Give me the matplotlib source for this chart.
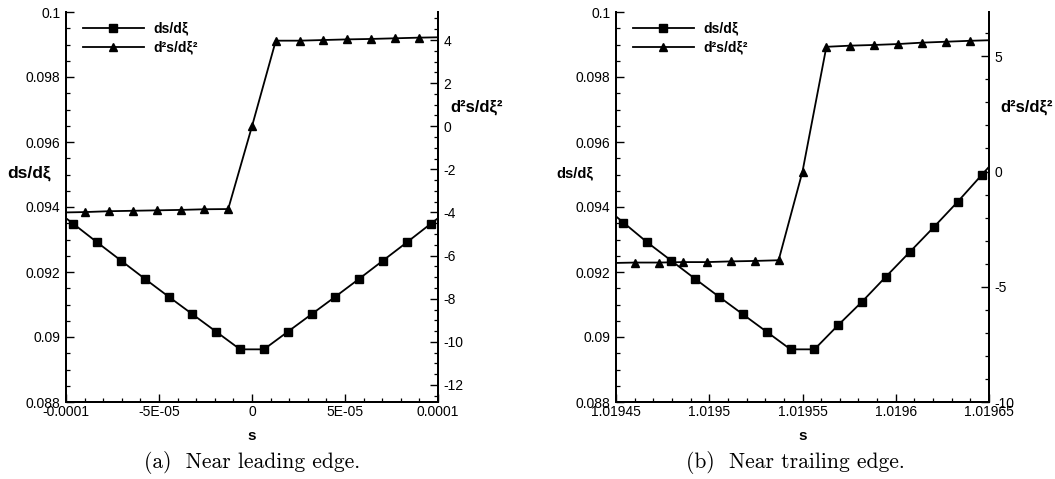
import matplotlib
matplotlib.use("Agg")
import matplotlib.pyplot as plt
from matplotlib.ticker import FixedLocator, FixedFormatter, MultipleLocator

plt.rcParams['font.family'] = ['Liberation Sans', 'DejaVu Sans']

# ---- data ----
# (a) near leading edge
s_le_sq = [-1.088e-4, -9.6e-5, -8.32e-5, -7.04e-5, -5.76e-5, -4.48e-5, -3.2e-5,
           -1.92e-5, -6.4e-6, 6.4e-6, 1.92e-5, 3.2e-5, 4.48e-5, 5.76e-5,
           7.04e-5, 8.32e-5, 9.6e-5, 1.088e-4]
ds_le = [0.09404, 0.09348, 0.09291, 0.09235, 0.09179, 0.09124, 0.0907,
         0.09016, 0.08962, 0.08962, 0.09016, 0.0907, 0.09124, 0.09179,
         0.09235, 0.09291, 0.09348, 0.09404]
s_le_tri = [-1.024e-4, -8.96e-5, -7.68e-5, -6.4e-5, -5.12e-5, -3.84e-5, -2.56e-5,
            -1.28e-5, 0.0, 1.28e-5, 2.56e-5, 3.84e-5, 5.12e-5, 6.4e-5,
            7.68e-5, 8.96e-5, 1.024e-4]
d2_le = [-4.00, -3.98, -3.94, -3.92, -3.90, -3.88, -3.85, -3.84, 0.0,
         3.97, 3.97, 4.00, 4.03, 4.05, 4.08, 4.11, 4.13]

# (b) near trailing edge
s_te_sq = [1.0194412, 1.019454, 1.0194668, 1.0194796, 1.0194924, 1.0195052,
           1.019518, 1.0195308, 1.0195436, 1.0195564, 1.0195692, 1.019582,
           1.0195948, 1.0196076, 1.0196204, 1.0196332, 1.019646, 1.0196588]
ds_te = [0.09413, 0.09352, 0.09291, 0.09235, 0.09179, 0.09124, 0.0907,
         0.09016, 0.08962, 0.08962, 0.09037, 0.09109, 0.09186, 0.09262,
         0.09338, 0.09416, 0.09498, 0.0958]
s_te_tri = [1.0194476, 1.0194604, 1.0194732, 1.019486, 1.0194988, 1.0195116,
            1.0195244, 1.0195372, 1.01955, 1.0195628, 1.0195756, 1.0195884,
            1.0196012, 1.019614, 1.0196268, 1.0196396, 1.0196524]
d2_te = [-3.97, -3.95, -3.95, -3.93, -3.93, -3.90, -3.88, -3.85, 0.0,
         5.41, 5.46, 5.49, 5.53, 5.59, 5.63, 5.67, 5.70]

# tick labels
ds_ticks = [0.088, 0.09, 0.092, 0.094, 0.096, 0.098, 0.1]
ds_ticklabels = ['0.088', '0.09', '0.092', '0.094', '0.096', '0.098', '0.1']
le_xticks = [-1e-4, -5e-5, 0.0, 5e-5, 1e-4]
le_xticklabels = ['-0.0001', '-5E-05', '0', '5E-05', '0.0001']
te_xticks = [1.01945, 1.0195, 1.01955, 1.0196, 1.01965]
te_xticklabels = ['1.01945', '1.0195', '1.01955', '1.0196', '1.01965']
le_d2ticks = [-12, -10, -8, -6, -4, -2, 0, 2, 4]
te_d2ticks = [-10, -5, 0, 5]

captions = ['(a)  Near leading edge.', '(b)  Near trailing edge.']


def style_ticks(a):
    a.tick_params(which='major', direction='in', length=6, width=1.0,
                  labelsize=10, pad=4)
    a.tick_params(which='minor', direction='in', length=3.2, width=0.9)


def draw_panel(fig, rect, s_sq, ds, s_tri, d2, xlim, xticks, xticklabels,
               d2lim, d2ticks, d2minor, ds_label_size, ds_label_x, d2_label_x):
    ax = fig.add_axes(rect)
    ax2 = ax.twinx()
    # keep the ds/dxi curve on top of the twin curve
    ax.set_zorder(ax2.get_zorder() + 1)
    ax.patch.set_visible(False)

    l1, = ax.plot(s_sq, ds, '-', color='black', lw=1.3, marker='s', ms=5.5,
                  label='ds/dξ')
    l2, = ax2.plot(s_tri, d2, '-', color='black', lw=1.3, marker='^', ms=5.2,
                   label='d²s/dξ²')

    ax.set_xlim(xlim)
    ax.set_ylim(0.088, 0.1)
    ax2.set_ylim(d2lim)

    ax.xaxis.set_major_locator(FixedLocator(xticks))
    ax.xaxis.set_major_formatter(FixedFormatter(xticklabels))
    ax.xaxis.set_minor_locator(MultipleLocator(1e-5))
    ax.yaxis.set_major_locator(FixedLocator(ds_ticks))
    ax.yaxis.set_major_formatter(FixedFormatter(ds_ticklabels))
    ax.yaxis.set_minor_locator(MultipleLocator(0.0005))
    ax2.yaxis.set_major_locator(FixedLocator(d2ticks))
    ax2.yaxis.set_major_formatter(FixedFormatter([str(t) for t in d2ticks]))
    ax2.yaxis.set_minor_locator(MultipleLocator(d2minor))

    for a in (ax, ax2):
        style_ticks(a)
        a.spines['top'].set_visible(False)
        for sp in ('left', 'bottom', 'right'):
            a.spines[sp].set_linewidth(1.4)
    ax.tick_params(axis='x', pad=2)

    ax.set_xlabel('s', fontsize=11, fontweight='bold')
    ax.xaxis.set_label_coords(0.5, -0.069)
    ax.set_ylabel('ds/dξ', fontsize=ds_label_size, fontweight='bold',
                  rotation=0, va='center', ha='center')
    ax.yaxis.set_label_coords(ds_label_x, 0.587)
    ax2.set_ylabel('d²s/dξ²', fontsize=12, fontweight='bold',
                   rotation=0, va='center', ha='center')
    ax2.yaxis.set_label_coords(d2_label_x, 0.755)

    ax.legend(handles=[l1, l2], loc='upper left',
              bbox_to_anchor=(0.045, 0.975), frameon=False,
              handlelength=4.4, handletextpad=0.7, labelspacing=0.35,
              borderpad=0, borderaxespad=0,
              prop={'size': 10, 'weight': 'bold'})
    return ax, ax2


fig = plt.figure(figsize=(10.55, 4.79), dpi=100)

draw_panel(fig, [66 / 1055, 77 / 479, 372 / 1055, 390 / 479],
           s_le_sq, ds_le, s_le_tri, d2_le,
           (-1e-4, 1e-4), le_xticks, le_xticklabels,
           (-12.79, 5.30), le_d2ticks, 0.5, 12.5, -0.098, 1.103)

draw_panel(fig, [616 / 1055, 77 / 479, 373 / 1055, 390 / 479],
           s_te_sq, ds_te, s_te_tri, d2_te,
           (1.01945, 1.01965), te_xticks, te_xticklabels,
           (-10, 6.92), te_d2ticks, 1.0, 10.5, -0.109, 1.100)

fig.text(252 / 1055, 17 / 479, captions[0], ha='center', va='center',
         fontfamily='cmr10', fontsize=15.5)
fig.text(795 / 1055, 17 / 479, captions[1], ha='center', va='center',
         fontfamily='cmr10', fontsize=15.5)

fig.savefig('out.png', dpi=100)
